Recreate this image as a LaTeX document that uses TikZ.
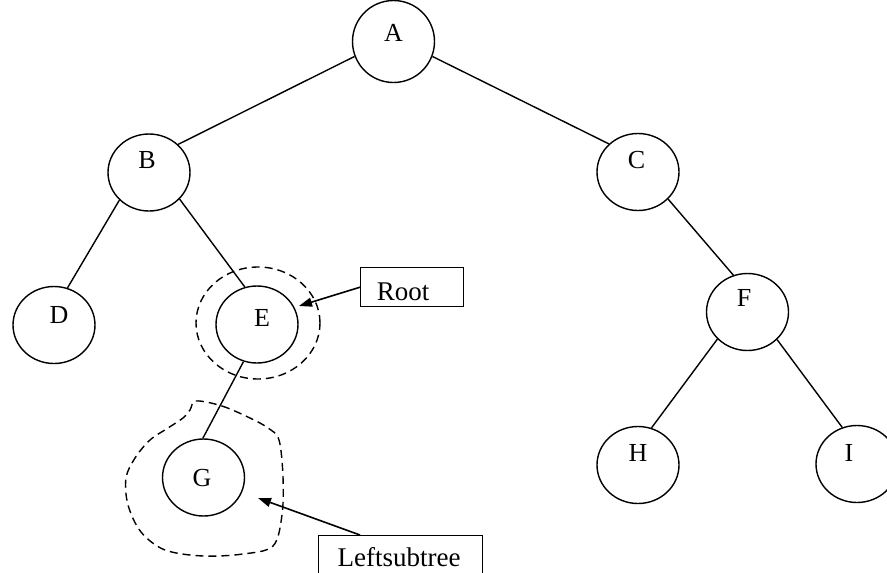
\documentclass[tikz,border=0pt]{standalone}
\usepackage{fontspec}
\setmainfont{Liberation Serif}
\usetikzlibrary{shapes.geometric,arrows.meta,calc}

\begin{document}
\begin{tikzpicture}[x=1pt,y=-1pt,
  treenode/.style={ellipse, draw, line width=1.4pt, minimum width=82pt,
    minimum height=77pt, inner sep=0pt},
  nl/.style={font=\fontsize{26}{30}\selectfont, inner sep=0pt},
  edge/.style={line width=1.4pt},
  tagbox/.style={draw, rectangle, line width=1.4pt, inner sep=0pt, anchor=north west},
  tagtext/.style={font=\fontsize{27}{32}\selectfont, inner sep=0pt},
  ring/.style={line width=1.4pt, dash pattern=on 8pt off 5pt},
  pointer/.style={line width=1.6pt, -{Triangle[length=13pt,width=9pt]}}]

\useasboundingbox (0,0) rectangle (887,573);

% tree nodes
\node[treenode, minimum height=82pt, label={[nl,yshift=8.5pt]center:A}] (A) at (393.5,41.5) {};
\node[treenode, label={[nl,xshift=-2pt,yshift=12.5pt]center:B}] (B) at (149,172.5) {};
\node[treenode, label={[nl,xshift=-1.5pt,yshift=12pt]center:C}] (C) at (638,172) {};
\node[treenode, label={[nl,xshift=5pt,yshift=10pt]center:D}] (D) at (54,325) {};
\node[treenode, label={[nl,xshift=5pt,yshift=6.5pt]center:E}] (E) at (257,324.5) {};
\node[treenode, label={[nl,xshift=-3.5pt,yshift=14pt]center:F}] (F) at (747.5,312) {};
\node[treenode, label={[nl,xshift=-1.5pt,yshift=-1pt]center:G}] (G) at (203.5,477.5) {};
\node[treenode, label={[nl,yshift=12pt]center:H}] (H) at (638,465) {};
\node[treenode, label={[nl,xshift=-8pt,yshift=11pt]center:I}] (I) at (857,464) {};

% tree edges
\draw[edge] (A.201) -- (B.44);
\draw[edge] (A.339) -- (C.136);
\draw[edge] (B.223) -- (D.70);
\draw[edge] (B.319) -- (E.108);
\draw[edge] (E.250) -- (G.91);
\draw[edge] (C.318) -- (F.111);
\draw[edge] (F.222) -- (H.70);
\draw[edge] (F.317) -- (I.112);

% dashed ring marking the root of the subtree
\node[ellipse, draw, ring, minimum width=124pt, minimum height=112pt, inner sep=0pt] (ering) at (258,323) {};

% dashed outline around the left subtree
\draw[ring] plot[smooth cycle, tension=0.55] coordinates {
  (196,401) (222,406) (250,418) (268,428) (279,440) (283,477) (282,515)
  (273,546) (243,554) (203,556) (165,550) (141,532) (128,505) (126,478)
  (135,458) (150,440) (168,428) (183,418) (190,410)};

% callout boxes
\node[tagbox, minimum width=103pt, minimum height=39pt,
  label={[tagtext,xshift=-9pt,yshift=-5pt]center:Root}] (root) at (360,267) {};
\node[tagbox, minimum width=164pt, minimum height=42pt,
  label={[tagtext,xshift=-1.5pt,yshift=0pt]center:Leftsubtree}] (lsub) at (318,535) {};

% arrow targets
\coordinate (rootTip) at (299,306);
\coordinate (lsubTip) at (258,498);

\draw[pointer] (root.west) -- (rootTip);
\draw[pointer] ($(lsub.north west)+(42,0)$) -- (lsubTip);

\end{tikzpicture}
\end{document}
